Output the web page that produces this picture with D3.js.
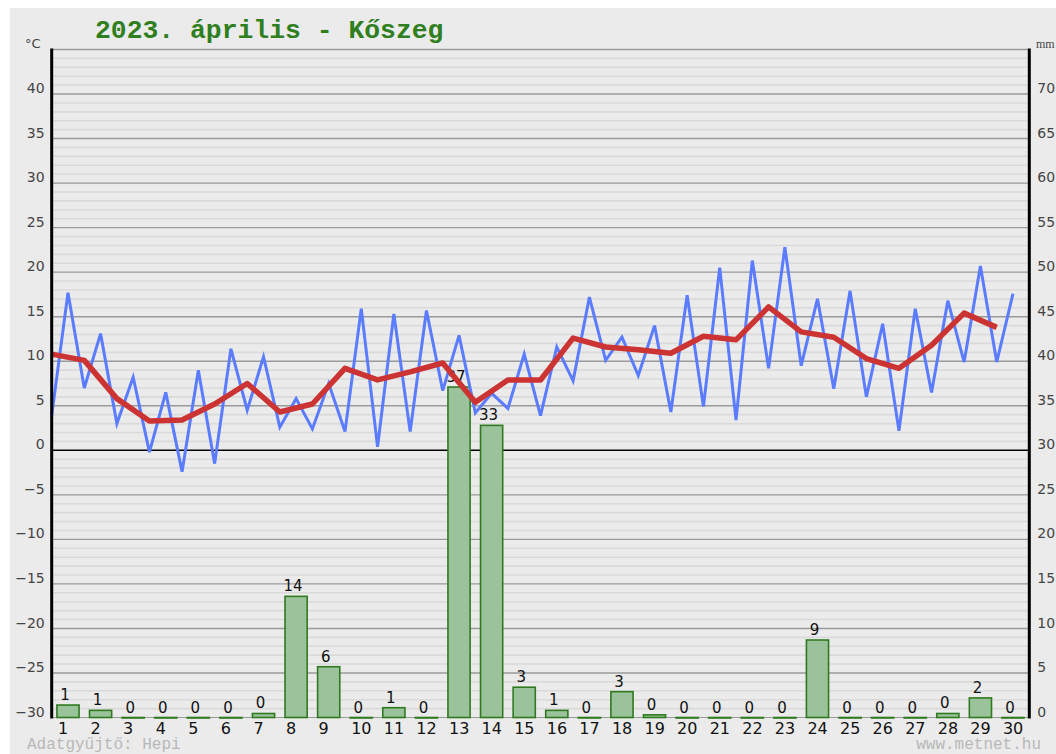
<!DOCTYPE html>
<html lang="hu">
<head>
<meta charset="UTF-8">
<title>2023. április - Kőszeg</title>
<script src="https://cdn.jsdelivr.net/npm/d3@7"></script>
<style>
  html, body { margin: 0; padding: 0; background: #fff; }
  svg { display: block; }
</style>
</head>
<body>
<svg id="chart" width="1056" height="754"></svg>
<script>
// daily values
var days = d3.range(1, 31);
var tMin = [3.9, 7.0, 3.0, -0.2, -2.4, -1.5, 4.5, 2.6, 2.4, 2.1,
            0.4, 2.1, 6.7, 4.2, 4.7, 3.9, 7.8, 10.1, 8.4, 4.3,
            4.9, 3.4, 9.2, 9.5, 6.9, 6.0, 2.2, 6.5, 9.9, 9.9];
var tMax = [17.7, 13.1, 8.2, 6.5, 9.0, 11.4, 10.5, 5.8, 7.5, 15.9,
            15.3, 15.7, 12.9, 6.4, 10.8, 11.6, 17.2, 12.7, 14.0, 17.4,
            20.5, 21.3, 22.8, 17.0, 17.9, 14.2, 15.9, 16.8, 20.7, 17.6];
var tAvg = [10.8, 10.1, 5.8, 3.3, 3.4, 5.2, 7.5, 4.3, 5.2, 9.2,
            7.9, 8.8, 9.8, 5.4, 7.9, 7.9, 12.6, 11.6, 11.3, 10.9,
            12.8, 12.4, 16.1, 13.3, 12.7, 10.3, 9.2, 11.8, 15.4, 13.8];
var precip = [1.4, 0.8, 0, 0, 0, 0, 0.45, 13.6, 5.7, 0,
              1.1, 0, 37.1, 32.8, 3.4, 0.8, 0, 2.9, 0.3, 0,
              0, 0, 0, 8.7, 0, 0, 0, 0.45, 2.2, 0];
var tempTicks = d3.range(-30, 41, 5);
var mmTicks = d3.range(0, 71, 5);

var svg = d3.select("#chart"),
    pLeft = 51.7, pRight = 1029.3, pTop = 49.5, pBottom = 717.5;

svg.append("rect").attr("x", 10).attr("y", 8).attr("width", 1046).attr("height", 746)
    .attr("fill", "#ebebeb");

var y = d3.scaleLinear().domain([-30, 45]).range([pBottom, pTop]);
var yR = d3.scaleLinear().domain([0, 75]).range([pBottom, pTop]);
var xLin = d3.scaleLinear().domain([0, 30]).range([pLeft, pRight]);
var xBand = d3.scaleBand().domain(days).range([pLeft, pRight])
    .paddingInner(0.32).paddingOuter(0.16);

// grid
var grid = svg.append("g");
grid.selectAll(".minor")
    .data(d3.range(-29, 45).filter(function (v) { return v % 5 !== 0; }))
    .enter().append("line")
    .attr("x1", pLeft).attr("x2", pRight)
    .attr("y1", function (d) { return y(d); }).attr("y2", function (d) { return y(d); })
    .attr("stroke", "#dadada").attr("stroke-width", 1.6);
grid.selectAll(".major")
    .data(d3.range(-25, 46, 5))
    .enter().append("line")
    .attr("x1", pLeft).attr("x2", pRight)
    .attr("y1", function (d) { return y(d); }).attr("y2", function (d) { return y(d); })
    .attr("stroke", function (d) { return d === 0 ? "#000" : "#9a9a9a"; })
    .attr("stroke-width", function (d) { return d === 0 ? 1.6 : 1.4; });
grid.append("line").attr("x1", pLeft).attr("x2", pRight)
    .attr("y1", pBottom).attr("y2", pBottom).attr("stroke", "#9a9a9a").attr("stroke-width", 1.2);

// precipitation bars
svg.append("g").selectAll("rect")
    .data(precip)
    .enter().append("rect")
    .attr("x", function (d, i) { return xBand(days[i]); })
    .attr("width", xBand.bandwidth())
    .attr("y", function (d) { return yR(d); })
    .attr("height", function (d) { return Math.max(pBottom - yR(d), 0.5); })
    .attr("fill", "#9bc39b")
    .attr("stroke", "#2f7a1f")
    .attr("stroke-width", 1.6);

svg.append("g").selectAll("text")
    .data(precip)
    .enter().append("text")
    .attr("x", function (d, i) { return xBand(days[i]) + xBand.bandwidth() / 2 - 3; })
    .attr("y", function (d) { return yR(d) - 5; })
    .attr("text-anchor", "middle")
    .attr("font-family", "DejaVu Sans, Verdana, sans-serif")
    .attr("font-size", 15)
    .attr("fill", "#111")
    .text(function (d) { return Math.round(d); });

// max/min temperature zigzag
var zig = [];
days.forEach(function (d, i) {
    zig.push([d - 1, tMin[i]]);
    zig.push([d - 0.5, tMax[i]]);
});
var line = d3.line()
    .x(function (d) { return xLin(d[0]); })
    .y(function (d) { return y(d[1]); });

svg.append("path")
    .datum(zig)
    .attr("fill", "none")
    .attr("stroke", "#5b7cff")
    .attr("stroke-width", 3)
    .attr("stroke-linejoin", "miter")
    .attr("d", line);

svg.append("path")
    .datum(days.map(function (d, i) { return [d - 1, tAvg[i]]; }))
    .attr("fill", "none")
    .attr("stroke", "#cc3333")
    .attr("stroke-width", 5.5)
    .attr("stroke-linejoin", "round")
    .attr("d", line);

// axes
var yAxis = d3.axisLeft(y).tickValues(tempTicks).tickSize(0).tickPadding(7);
var gy = svg.append("g").attr("transform", "translate(" + pLeft + ",0)").call(yAxis);
gy.select(".domain").remove();
gy.selectAll("text").attr("dy", "-0.1em").attr("fill", "#444")
    .attr("font-family", "DejaVu Sans, Verdana, sans-serif").attr("font-size", 14);

var yAxisR = d3.axisRight(yR).tickValues(mmTicks).tickSize(0).tickPadding(8);
var gyr = svg.append("g").attr("transform", "translate(" + pRight + ",0)").call(yAxisR);
gyr.select(".domain").remove();
gyr.selectAll("text").attr("dy", "-0.1em").attr("fill", "#444")
    .attr("font-family", "DejaVu Sans, Verdana, sans-serif").attr("font-size", 14);

var xAxis = d3.axisBottom(xBand).tickSize(0).tickPadding(5);
var gx = svg.append("g").attr("transform", "translate(0," + pBottom + ")").call(xAxis);
gx.select(".domain").remove();
gx.selectAll("text").attr("text-anchor", "start")
    .attr("x", -xBand.bandwidth() / 2 + 1)
    .attr("fill", "#111")
    .attr("font-family", "DejaVu Sans, Verdana, sans-serif").attr("font-size", 16);

svg.append("line").attr("x1", pLeft).attr("x2", pLeft).attr("y1", pTop - 1).attr("y2", pBottom + 1)
    .attr("stroke", "#000").attr("stroke-width", 3);
svg.append("line").attr("x1", pRight).attr("x2", pRight).attr("y1", pTop - 1).attr("y2", pBottom + 1)
    .attr("stroke", "#000").attr("stroke-width", 3);

// texts
svg.append("text").attr("x", 95).attr("y", 38)
    .attr("font-family", "Liberation Mono, Courier New, monospace")
    .attr("font-weight", "bold").attr("font-size", 26.4).attr("fill", "#2f7f1f")
    .text("2023. április - Kőszeg");
svg.append("text").attr("x", 25).attr("y", 48)
    .attr("font-family", "DejaVu Sans, Verdana, sans-serif").attr("font-size", 13).attr("fill", "#444")
    .text("°C");
svg.append("text").attr("x", 1036).attr("y", 48)
    .attr("font-family", "Liberation Serif, serif").attr("font-size", 12).attr("fill", "#444")
    .text("mm");
svg.append("text").attr("x", 27).attr("y", 749)
    .attr("font-family", "Liberation Mono, Courier New, monospace").attr("font-size", 16).attr("fill", "#b8b8b8")
    .text("Adatgyűjtő: Hepi");
svg.append("text").attr("x", 1041).attr("y", 749).attr("text-anchor", "end")
    .attr("font-family", "Liberation Mono, Courier New, monospace").attr("font-size", 16).attr("fill", "#b8b8b8")
    .text("www.metnet.hu");
</script>
</body>
</html>
